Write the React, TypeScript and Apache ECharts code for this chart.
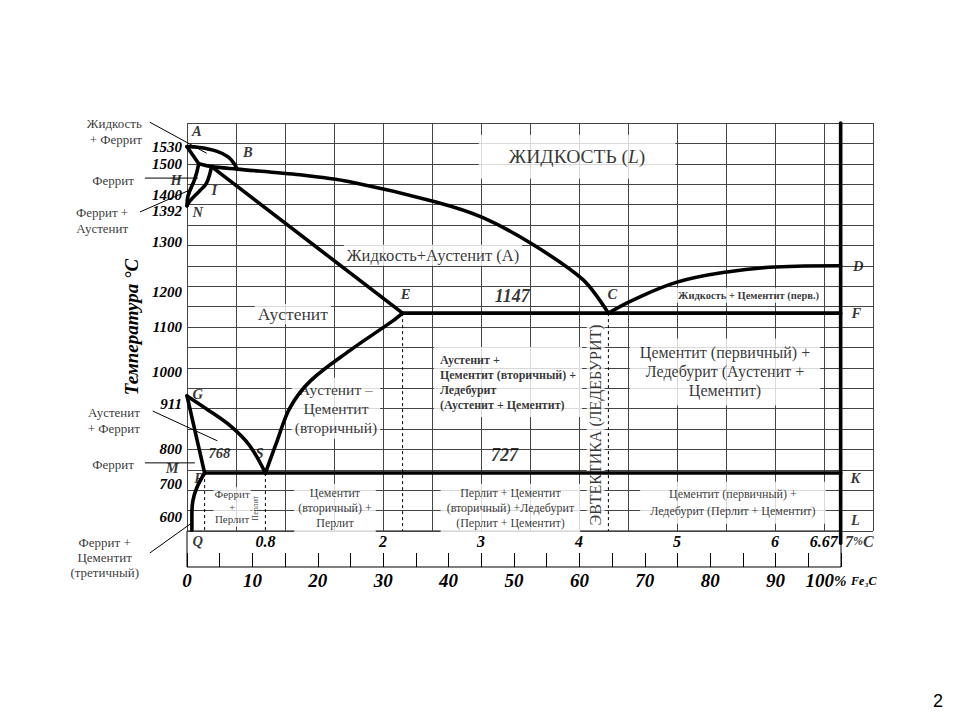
import React, { useEffect, useRef } from "react";
import * as echarts from "echarts";

const SERIF = '"Liberation Serif", "Times New Roman", serif';

// ---- Phase boundaries, [%C, °C] ----
const curveAB = [[0, 1542], [0.13, 1540], [0.3, 1531], [0.42, 1517], [0.49, 1497], [0.51, 1487]];
const lineAH = [[0, 1542], [0.12, 1500]];
const curveLiquidus = [[0.12, 1500], [0.25, 1493], [0.51, 1487], [1.15, 1473], [1.66, 1456], [2.53, 1407], [3.02, 1368], [3.53, 1302], [4.04, 1216], [4.3, 1134]];
const lineJE = [[0.25, 1493], [2.2, 1134]];
const curveHN = [[0.12, 1500], [0.08, 1463], [0.01, 1421], [0, 1397]];
const curveJN = [[0.25, 1493], [0.2, 1453], [0.13, 1434], [0.03, 1409], [0, 1397]];
const lineECF = [[2.2, 1134], [6.67, 1134]];
const curveCD = [[4.3, 1134], [4.55, 1166], [5.0, 1210], [5.51, 1235], [6.0, 1247], [6.67, 1250]];
const curveES = [[2.2, 1134], [2.1, 1115], [1.66, 1042], [1.26, 968], [1.05, 902], [0.92, 821], [0.8, 742]];
const curveGS = [[0, 931], [0.2, 899], [0.44, 858], [0.64, 809], [0.8, 742]];
const lineGP = [[0, 931], [0.18, 742]];
const linePSK = [[0.18, 742], [6.67, 742]];
const curvePQ = [[0.18, 742], [0.1, 706], [0.06, 674], [0.05, 642], [0.05, 602]];
const lineFe3C = [[6.67, 1600], [6.67, 570]];

// dashed verticals below P, S, E, C
const dashP = [[0.18, 742], [0.18, 600]];
const dashS = [[0.8, 742], [0.8, 600]];
const dashE = [[2.2, 1134], [2.2, 600]];
const dashC = [[4.3, 1134], [4.3, 600]];

// leader lines of the left-hand notes: [c1, t1, c2, t2]
const leaders = [
  [-0.38, 1602, 0.2, 1526],
  [-0.43, 1465, 0.11, 1465],
  [-0.48, 1382, 0.05, 1438],
  [-0.35, 894, 0.31, 821],
  [-0.43, 767, 0.08, 767],
  [-0.38, 546, 0.05, 620],
];

// ---- Tick labels ----
const yTickValues = [1600, 1530, 1500, 1400, 1392, 1300, 1200, 1100, 1000, 911, 800, 700, 600];
const cTickValues = [0.8, 2, 3, 4, 5, 6, 6.67];
const fe3cTickValues = [0, 10, 20, 30, 40, 50, 60, 70, 80, 90, 100];

// ---- Point letters and numbers [text, %C, °C] ----
const pointLetters: [string, number, number][] = [
  ["A", 0.1, 1580], ["B", 0.62, 1529], ["H", -0.11, 1460], ["I", 0.28, 1436],
  ["N", 0.11, 1382], ["G", 0.11, 936], ["S", 0.74, 791], ["M", -0.15, 754],
  ["P", 0.12, 730], ["Q", 0.11, 575], ["E", 2.23, 1181], ["C", 4.34, 1181],
  ["D", 6.85, 1250], ["F", 6.83, 1134], ["K", 6.82, 730], ["L", 6.82, 627],
];
const numberMarks: [string, number, number][] = [
  ["768", 0.33, 791], ["1147", 3.32, 1176], ["727", 3.24, 786],
];

// label layout tweaks (pixels) kept apart from the values
const yTickShift: Record<number, number> = { 1600: -11, 1530: -5, 1400: -10, 1392: 3, 1300: -3, 1200: 6, 1000: 4, 700: -6, 600: -14 };

function shiftedLabel(text: string, shift: number) {
  if (!shift) return text;
  const key = shift < 0 ? "u" + -shift : "d" + shift;
  return shift < 0 ? `{${key}|${text}}\n{${key}| }` : `{${key}| }\n{${key}|${text}}`;
}
const yRich: Record<string, any> = {};
Object.values(yTickShift).forEach((s) => {
  const key = s < 0 ? "u" + -s : "d" + s;
  yRich[key] = { lineHeight: Math.abs(s) * 2, fontFamily: SERIF, fontWeight: "bold", fontStyle: "italic", fontSize: 15, color: "#000" };
});

const thick = (data: number[][], smooth: number | boolean = false) => ({
  type: "line", data, smooth, symbol: "none", showSymbol: false, clip: false, silent: true,
  lineStyle: { color: "#000", width: 3.6, cap: "round", join: "round" }, z: 5,
});
const dashed = (data: number[][]) => ({
  type: "line", data, symbol: "none", showSymbol: false, clip: false, silent: true,
  lineStyle: { color: "#000", width: 1, type: [3, 3] }, z: 4,
});

const BOX = { backgroundColor: "#fff", color: "#000", fontFamily: SERIF };

function item(text: string, c: number, t: number, label: any) {
  return { value: [c, t], label: { show: true, position: "inside", formatter: text, color: "#000", fontFamily: SERIF, ...label } };
}

const regionItems = [
  item("{n|ЖИДКОСТЬ (}{i|L}{n|)}", 3.98, 1517, {
    ...BOX, padding: [12, 30],
    rich: { n: { fontSize: 19.5, fontFamily: SERIF, color: "#000" }, i: { fontSize: 19.5, fontStyle: "italic", fontFamily: SERIF, color: "#000" } },
  }),
  item("Жидкость+Аустенит (А)", 2.51, 1276, { ...BOX, fontSize: 16.5, padding: [2, 3] }),
  item("Аустенит", 1.08, 1132, { ...BOX, fontSize: 17.5, padding: [1, 3] }),
  item("Жидкость + Цементит (перв.)", 5.73, 1178, { ...BOX, fontSize: 10.5, fontWeight: "bold", padding: [2, 3] }),
  item("Аустенит –\nЦементит\n(вторичный)", 1.52, 901, { ...BOX, fontSize: 15.5, lineHeight: 19, padding: [2, 3] }),
  item("Аустенит +\nЦементит (вторичный) +\nЛедебурит\n(Аустенит + Цементит)", 2.52, 965, {
    ...BOX, fontSize: 12, fontWeight: "bold", lineHeight: 15, align: "left", padding: [5, 6, 5, 6],
  }),
  item("ЭВТЕКТИКА (ЛЕДЕБУРИТ)", 4.17, 860, { ...BOX, fontSize: 16, rotate: 90, padding: [1, 3] }),
  item("Цементит (первичный) +\nЛедебурит (Аустенит +\nЦементит)", 5.49, 990, { ...BOX, fontSize: 16, lineHeight: 19, padding: [5, 10] }),
  item("Феррит\n+\nПерлит", 0.46, 659, { ...BOX, fontSize: 11, lineHeight: 12.5, padding: [1, 1] }),
  item("Перлит", 0.7, 656, { ...BOX, fontSize: 8, rotate: 90, padding: [0, 1] }),
  item("Цементит\n(вторичный) +\nПерлит", 1.51, 656, { ...BOX, fontSize: 12, lineHeight: 15, padding: [2, 4] }),
  item("Перлит + Цементит\n(вторичный) +Ледебурит\n(Перлит + Цементит)", 3.3, 656, { ...BOX, fontSize: 12, lineHeight: 15, padding: [2, 6] }),
  item("Цементит (первичный) +\nЛедебурит (Перлит + Цементит)", 5.57, 669, { ...BOX, fontSize: 12, lineHeight: 17, padding: [4, 10] }),
];

const noteItems = [
  item("Жидкость\n+ Феррит", -0.46, 1580, { fontSize: 13, lineHeight: 16, align: "right" }),
  item("Феррит", -0.755, 1460, { fontSize: 13 }),
  item("Феррит +\nАустенит", -0.6, 1362, { fontSize: 13, lineHeight: 16, align: "right" }),
  item("Аустенит\n+ Феррит", -0.48, 872, { fontSize: 13, lineHeight: 16, align: "right" }),
  item("Феррит", -0.755, 762, { fontSize: 13 }),
  item("Феррит +\nЦементит\n(третичный)", -0.84, 534, { fontSize: 13, lineHeight: 15 }),
];

const BI = { fontFamily: SERIF, fontWeight: "bold", fontStyle: "italic", color: "#000" };
const letterItems = [
  ...pointLetters.map(([s, c, t]) => item(s, c, t, { ...BI, fontSize: 14.5 })),
  ...numberMarks.map(([s, c, t]) => item(s, c, t, { ...BI, fontSize: s === "768" ? 14.5 : 18 })),
  item("{n|7}{s|%}{n|C}", 6.86, 575, { rich: { n: { ...BI, fontSize: 16 }, s: { ...BI, fontSize: 12 } } }),
];

const labelSeries = (data: any[], z: number) => ({
  type: "scatter", data, symbolSize: 1, clip: false, silent: true,
  itemStyle: { color: "rgba(0,0,0,0)" }, z,
});

const leaderSeries = {
  type: "custom", clip: false, silent: true, z: 6,
  data: leaders,
  encode: { x: [0, 2], y: [1, 3] },
  renderItem: (_params: any, api: any) => {
    const a = api.coord([api.value(0), api.value(1)]);
    const b = api.coord([api.value(2), api.value(3)]);
    return { type: "line", shape: { x1: a[0], y1: a[1], x2: b[0], y2: b[1] }, style: { stroke: "#000", lineWidth: 1 } };
  },
};

const option: any = {
  animation: false,
  backgroundColor: "#fff",
  textStyle: { fontFamily: SERIF },
  grid: [
    { left: 187, top: 123, width: 686, height: 408, show: false },
    { left: 187, top: 531, width: 654, height: 36, show: true, borderColor: "#000", borderWidth: 1, backgroundColor: "rgba(0,0,0,0)" },
  ],
  xAxis: [
    {
      type: "value", gridIndex: 0, min: 0, max: 7, interval: 0.5, position: "bottom",
      axisLine: { show: false }, axisTick: { show: false },
      splitLine: { show: true, lineStyle: { color: "#444", width: 1 } },
      axisLabel: {
        customValues: cTickValues, margin: 2, color: "#000",
        fontFamily: SERIF, fontWeight: "bold", fontStyle: "italic", fontSize: 16,
        formatter: (v: number) => (Math.abs(v - 6.67) < 1e-6 ? "{n|6.67}{sp| }" : String(v)),
        rich: {
          n: { ...BI, fontSize: 16 },
          sp: { width: 34, fontSize: 16 },
        },
      },
    },
    {
      type: "value", gridIndex: 1, min: 0, max: 100, interval: 5, position: "bottom",
      axisLine: { show: false },
      axisTick: { show: true, inside: true, length: 14, lineStyle: { color: "#000", width: 1 } },
      splitLine: { show: false },
      axisLabel: {
        margin: 4, color: "#000", fontFamily: SERIF, fontWeight: "bold", fontStyle: "italic", fontSize: 19,
        customValues: fe3cTickValues,
        formatter: (v: number) => (v === 100 ? "{n|100}{s|%} {f|Fe₃C}" : String(v)),
        rich: {
          n: { ...BI, fontSize: 19 },
          s: { ...BI, fontSize: 15 },
          f: { ...BI, fontSize: 12 },
        },
      },
    },
  ],
  yAxis: [
    {
      type: "value", gridIndex: 0, min: 600, max: 1600, interval: 50,
      axisLine: { show: false }, axisTick: { show: false },
      splitLine: { show: true, lineStyle: { color: "#444", width: 1 } },
      axisLabel: {
        customValues: yTickValues, margin: 5, color: "#000",
        fontFamily: SERIF, fontWeight: "bold", fontStyle: "italic", fontSize: 15,
        formatter: (v: number) => shiftedLabel(String(v), yTickShift[v] || 0),
        rich: yRich,
      },
      name: "Температура °C", nameLocation: "middle", nameGap: 46, nameRotate: 90,
      nameTextStyle: { ...BI, fontSize: 19 },
    },
    { type: "value", gridIndex: 1, min: 0, max: 1, show: false },
  ],
  graphic: [
    { type: "text", right: 17, bottom: 10, style: { text: "2", fontFamily: '"Liberation Sans", Arial, sans-serif', fontSize: 18, fill: "#000" } },
  ],
  series: [
    labelSeries(regionItems, 3),
    thick(curveAB, 0.4),
    thick(lineAH),
    thick(curveLiquidus, 0.3),
    thick(lineJE),
    thick(curveHN, 0.4),
    thick(curveJN, 0.4),
    thick(lineECF),
    thick(curveCD, 0.4),
    thick(curveES, 0.35),
    thick(curveGS, 0.35),
    thick(lineGP),
    thick(linePSK),
    thick(curvePQ, 0.4),
    thick(lineFe3C),
    dashed(dashP), dashed(dashS), dashed(dashE), dashed(dashC),
    leaderSeries,
    labelSeries(noteItems, 7),
    labelSeries(letterItems, 8),
  ],
};

export default function App() {
  const ref = useRef<HTMLDivElement>(null);
  useEffect(() => {
    document.body.style.margin = "0";
    const chart = echarts.init(ref.current!, null, { renderer: "svg" });
    chart.setOption(option);
    return () => chart.dispose();
  }, []);
  return <div ref={ref} style={{ width: 960, height: 720, background: "#fff" }} />;
}
